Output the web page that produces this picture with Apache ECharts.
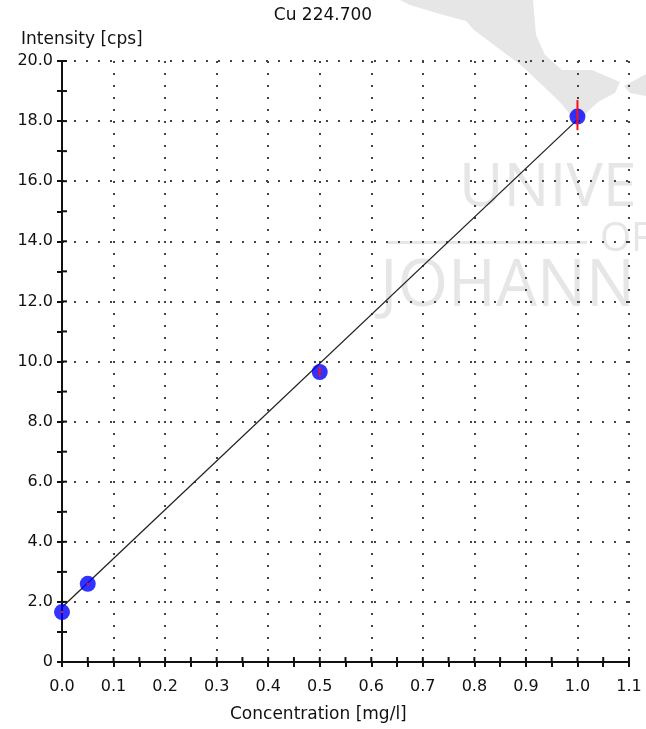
<!DOCTYPE html>
<html>
<head>
<meta charset="utf-8">
<script src="https://cdn.jsdelivr.net/npm/echarts@6/dist/echarts.min.js"></script>
<style>
  html, body { margin: 0; padding: 0; background: #ffffff; }
  #chart { width: 646px; height: 729px; }
</style>
</head>
<body>
<div id="chart"></div>
<script>
// Calibration standards for Cu 224.700
const concentrations = [0.0, 0.05, 0.5, 1.0];
const intensities = [1.66, 2.6, 9.65, 18.15];
// Spread of the replicate readings (low / high)
const errLow = [1.63, 2.57, 9.5, 17.7];
const errHigh = [1.69, 2.63, 9.82, 18.7];
// Calibration line end points
const fitX = [0.0, 1.0];
const fitY = [1.82, 18.05];
// Axis ranges and steps
const xRange = [0, 1.1, 0.1];
const yRange = [0, 20, 2];

const chart = echarts.init(document.getElementById('chart'), null, { renderer: 'canvas' });

const labelFont = { fontFamily: 'DejaVu Sans', fontSize: 16, color: '#111' };
const nameFont = { fontFamily: 'DejaVu Sans', fontSize: 17, fill: '#111' };
const markFill = '#e6e6e6';
const tickStyle = { color: '#111', width: 2 };
const TICK = 5;

const points = concentrations.map((c, i) => [c, intensities[i]]);
const bars = concentrations.map((c, i) => [c, errLow[i], errHigh[i]]);
const fitLine = fitX.map((x, i) => [x, fitY[i]]);

// background watermark, title and axis names
const baseGraphics = [
  { type: 'polygon', z: -10, silent: true,
    shape: { points: [[400,0],[533,0],[536,35],[545,55],[562,70],[592,70],[620,82],[615,93],[598,102],[585,114],[578,124],[560,102],[522,66],[474,30],[466,21],[440,14],[410,5]] },
    style: { fill: markFill } },
  { type: 'polygon', z: -10, silent: true,
    shape: { points: [[624,86],[646,74],[646,96],[630,93]] },
    style: { fill: markFill } },
  { type: 'text', z: -10, silent: true, left: 459, top: 158,
    style: { text: 'UNIVE', font: '400 61px "Open Sans"', fill: markFill } },
  { type: 'rect', z: -10, silent: true,
    shape: { x: 387, y: 241, width: 200, height: 3 }, style: { fill: markFill } },
  { type: 'text', z: -10, silent: true, left: 600, top: 220,
    style: { text: 'OF', font: '400 40px "Open Sans"', fill: markFill } },
  { type: 'text', z: -10, silent: true, left: 380, top: 255,
    style: { text: 'JOHANN', font: '400 65px "Open Sans"', fill: markFill } },
  { type: 'text', left: 'center', top: 7,
    style: Object.assign({ text: 'Cu 224.700' }, nameFont) },
  { type: 'text', left: 21, top: 31,
    style: Object.assign({ text: 'Intensity [cps]' }, nameFont) },
  { type: 'text', left: 230, top: 706,
    style: Object.assign({ text: 'Concentration [mg/l]' }, nameFont) }
];

chart.setOption({
  animation: false,
  backgroundColor: '#ffffff',
  grid: { left: 62, right: 17, top: 61, bottom: 67, containLabel: false },
  xAxis: {
    type: 'value', min: xRange[0], max: xRange[1], interval: xRange[2],
    position: 'bottom',
    axisLine: { show: true, onZero: false, lineStyle: tickStyle },
    axisTick: { show: true, inside: false, length: TICK, lineStyle: tickStyle },
    minorTick: { show: true, splitNumber: 2, length: TICK, lineStyle: tickStyle },
    axisLabel: Object.assign({ margin: 17, formatter: v => v.toFixed(1) }, labelFont),
    splitLine: { show: true, lineStyle: { color: '#444', width: 2, type: [2, 10] } }
  },
  yAxis: {
    type: 'value', min: yRange[0], max: yRange[1], interval: yRange[2],
    position: 'left',
    axisLine: { show: true, onZero: false, lineStyle: tickStyle },
    axisTick: { show: true, inside: false, length: TICK, lineStyle: tickStyle },
    minorTick: { show: true, splitNumber: 2, length: TICK, lineStyle: tickStyle },
    axisLabel: Object.assign({ margin: 9, formatter: v => v === 0 ? '0' : v.toFixed(1) }, labelFont),
    splitLine: { show: true, lineStyle: { color: '#444', width: 2, type: [2, 10] } }
  },
  graphic: baseGraphics,
  series: [
    {
      type: 'line', data: fitLine,
      showSymbol: false, symbol: 'none', z: 3,
      lineStyle: { color: '#222', width: 1.3 }
    },
    {
      type: 'scatter', data: points,
      symbol: 'circle', symbolSize: 16, z: 4,
      itemStyle: { color: '#0000ff' }
    },
    {
      type: 'custom', data: bars, z: 5,
      renderItem: function (params, api) {
        const lo = api.coord([api.value(0), api.value(1)]);
        const hi = api.coord([api.value(0), api.value(2)]);
        let y1 = hi[1], y2 = lo[1];
        if (y2 - y1 < 2) { const m = (y1 + y2) / 2; y1 = m - 1; y2 = m + 1; }
        return {
          type: 'rect',
          shape: { x: lo[0] - 1, y: y1, width: 2, height: y2 - y1 },
          style: { fill: '#ff1010' }
        };
      }
    }
  ]
});

// Inner halves of the tick marks: the axes draw the outer halves, these are
// placed at every major and minor tick value through the chart's own scales.
const innerTicks = [];
const xSteps = Math.round((xRange[1] - xRange[0]) / (xRange[2] / 2));
for (let k = 0; k <= xSteps; k++) {
  const v = xRange[0] + k * xRange[2] / 2;
  const p = chart.convertToPixel({ gridIndex: 0 }, [v, yRange[0]]);
  innerTicks.push({ type: 'line', z: 50, silent: true,
    shape: { x1: p[0], y1: p[1], x2: p[0], y2: p[1] - TICK },
    style: { stroke: tickStyle.color, lineWidth: tickStyle.width } });
}
const ySteps = Math.round((yRange[1] - yRange[0]) / (yRange[2] / 2));
for (let k = 0; k <= ySteps; k++) {
  const v = yRange[0] + k * yRange[2] / 2;
  const p = chart.convertToPixel({ gridIndex: 0 }, [xRange[0], v]);
  innerTicks.push({ type: 'line', z: 50, silent: true,
    shape: { x1: p[0], y1: p[1], x2: p[0] + TICK, y2: p[1] },
    style: { stroke: tickStyle.color, lineWidth: tickStyle.width } });
}
chart.setOption({ graphic: baseGraphics.concat(innerTicks) });
</script>
</body>
</html>
